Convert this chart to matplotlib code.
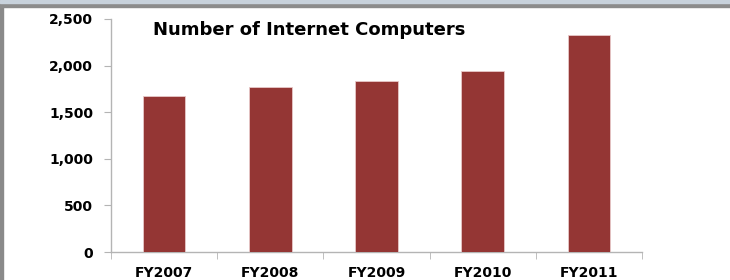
import matplotlib
matplotlib.use("Agg")
import matplotlib.pyplot as plt
from matplotlib.patches import Rectangle
from matplotlib.ticker import FuncFormatter, FixedLocator

categories = ["FY2007", "FY2008", "FY2009", "FY2010", "FY2011"]
values = [1675, 1775, 1840, 1940, 2325]
title = "Number of Internet Computers"

plt.rcParams['font.family'] = ['DejaVu Sans']

W, H = 730, 280
fig = plt.figure(figsize=(W / 100, H / 100), dpi=100)
fig.patch.set_facecolor("white")

# frame strips
fig.patches.append(Rectangle((0, 0), 3 / W, 1, transform=fig.transFigure, color="#8a8a8a", zorder=0))
fig.patches.append(Rectangle((0, 1 - 7 / H), 1, 7 / H, transform=fig.transFigure, color="#8c8c8c", zorder=0))
fig.patches.append(Rectangle((0, 1 - 3 / H), 1, 3 / H, transform=fig.transFigure, color="#c8d2dc", zorder=0))

ax = fig.add_axes([111 / W, 28 / H, 531 / W, 233 / H])
x = list(range(len(categories)))
ax.bar(x, values, width=0.4, color="#943634", edgecolor="#e8c8c8", linewidth=0.6, zorder=3)

ax.set_xlim(-0.5, len(categories) - 0.5)
ax.set_ylim(0, 2500)
ax.set_yticks([0, 500, 1000, 1500, 2000, 2500])
ax.yaxis.set_major_formatter(FuncFormatter(lambda v, p: f"{int(v):,}"))
ax.set_xticks(x)
ax.set_xticklabels(categories)
ax.xaxis.set_minor_locator(FixedLocator([i - 0.5 for i in range(len(categories) + 1)]))

for s in ["top", "right"]:
    ax.spines[s].set_visible(False)
for s in ["left", "bottom"]:
    ax.spines[s].set_color("#b4b4b4")
    ax.spines[s].set_linewidth(1.0)

ax.tick_params(axis="y", length=5, color="#b4b4b4", labelsize=10, pad=8)
ax.tick_params(axis="x", which="major", length=0, labelsize=10, pad=10)
ax.tick_params(axis="x", which="minor", length=5, color="#b4b4b4")
for lab in ax.get_xticklabels() + ax.get_yticklabels():
    lab.set_fontweight("bold")

fig.text(153 / W, 1 - 30 / H, title, fontsize=13, fontweight="bold", ha="left", va="center")

fig.savefig("out.png", dpi=100)
